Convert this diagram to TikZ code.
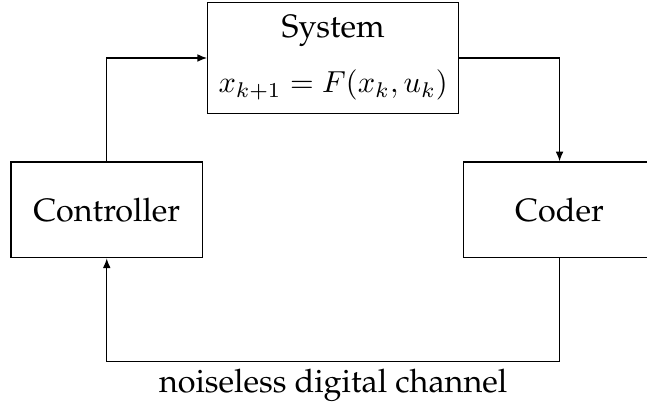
\documentclass[tikz,border=0pt]{standalone}
\usepackage[T1]{fontenc}
\usepackage{palatino}
\usepackage{amsmath}
\usepackage{graphicx}
\usetikzlibrary{arrows.meta, positioning, calc}

\begin{document}
\begin{tikzpicture}[
  block/.style={draw, minimum width=2.08cm, minimum height=1.04cm, align=center},
  arrow/.style={-{Latex[length=3pt,width=2.4pt]}},
]
\useasboundingbox (-1.16,-2.16) rectangle (5.87,2.28);
\node[block] (ctrl) at (0,0) {Controller};
\node[block] (coder) at (4.92,0) {Coder};
\node[block, minimum width=2.7cm, minimum height=1.2cm] (sys) at (2.46,1.65)
  {System\\[5pt] \scalebox{0.94}{$x_{k+1}=F(x_k,u_k)$}};
\coordinate (chr) at (4.92,-1.65);
\coordinate (chl) at (0,-1.65);

\draw[arrow] (ctrl.north) |- (sys.west);
\draw[arrow] (sys.east) -| (coder.north);
\draw[arrow] (coder.south) -- (chr) -- (chl)
  node[midway, below, inner sep=2pt] {noiseless digital channel} -- (ctrl.south);
\end{tikzpicture}
\end{document}
